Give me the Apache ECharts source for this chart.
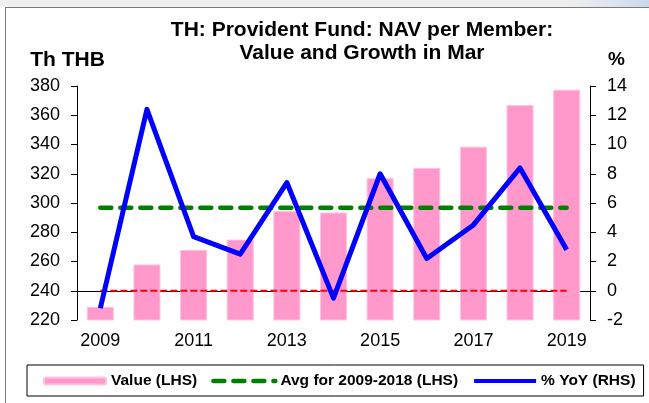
<!DOCTYPE html>
<html>
<head>
<meta charset="utf-8">
<script src="https://cdn.jsdelivr.net/npm/echarts@6/dist/echarts.min.js"></script>
<style>
  html, body { margin: 0; padding: 0; background: #fff; }
  #chart { width: 649px; height: 403px; }
</style>
</head>
<body>
<div id="chart"></div>
<script>
const years = ['2009', '2010', '2011', '2012', '2013', '2014', '2015', '2016', '2017', '2018', '2019'];
const navValue = [229, 258, 268, 275, 294.5, 293.5, 317, 324, 338.5, 367, 377.5];
const yoyGrowth = [-1.2, 12.4, 3.7, 2.5, 7.4, -0.5, 8.0, 2.2, 4.5, 8.4, 2.8];
const avgLine = [296.8, 296.8, 296.8, 296.8, 296.8, 296.8, 296.8, 296.8, 296.8, 296.8, 296.8];
const zeroLine = [0, 0, 0, 0, 0, 0, 0, 0, 0, 0, 0];
const seriesNames = ['Value (LHS)', 'Avg for 2009-2018 (LHS)', '% YoY (RHS)'];

const font = 'Liberation Sans, Arial, sans-serif';
const noSymbol = {color: 'rgba(0,0,0,0)', borderColor: 'rgba(0,0,0,0)', borderWidth: 0};
const chart = echarts.init(document.getElementById('chart'), null, {renderer: 'canvas'});

chart.setOption({
  backgroundColor: '#fff',
  animation: false,
  title: {
    text: 'TH: Provident Fund: NAV per Member:\nValue and Growth in Mar',
    left: 362,
    top: 18.5,
    padding: 0,
    textAlign: 'center',
    textStyle: {
      fontFamily: font,
      fontSize: 21,
      fontWeight: 'bold',
      color: '#000',
      lineHeight: 23
    }
  },
  graphic: [
    {type: 'rect', shape: {x: 0, y: 0, width: 649, height: 7}, style: {fill: '#efefef'}, silent: true},
    {
      type: 'rect', shape: {x: 560, y: 0, width: 89, height: 7}, silent: true,
      style: {fill: new echarts.graphic.LinearGradient(0, 0, 1, 0, [
        {offset: 0, color: 'rgba(220,228,240,0)'},
        {offset: 1, color: 'rgba(200,215,235,1)'}
      ])}
    },
    {type: 'line', shape: {x1: 5, y1: 7.5, x2: 649, y2: 7.5}, style: {stroke: '#7a7a7a', lineWidth: 1}, silent: true},
    {type: 'line', shape: {x1: 5.5, y1: 7.5, x2: 5.5, y2: 403}, style: {stroke: '#7a7a7a', lineWidth: 1}, silent: true}
  ],
  legend: {
    data: [
      {name: seriesNames[0]},
      {name: seriesNames[1], itemStyle: noSymbol,
        lineStyle: {color: '#008000', width: 4.5, type: [11, 9], cap: 'round'}},
      {name: seriesNames[2], itemStyle: noSymbol,
        lineStyle: {color: '#0000ff', width: 4}}
    ],
    left: 27,
    top: 365,
    padding: [8, 8, 7, 16],
    itemGap: 14,
    itemWidth: 62,
    itemHeight: 7,
    borderColor: '#000',
    borderWidth: 1,
    textStyle: {fontFamily: font, fontSize: 15.5, fontWeight: 'bold', color: '#000'}
  },
  grid: {left: 77, right: 59, top: 86, bottom: 83},
  xAxis: {
    type: 'category',
    data: years,
    boundaryGap: true,
    axisLine: {lineStyle: {color: '#000', width: 1}},
    axisTick: {interval: 0, length: 6, lineStyle: {color: '#000'}},
    axisLabel: {interval: 1, margin: 12, fontFamily: font, fontSize: 18, color: '#000'}
  },
  yAxis: [
    {
      type: 'value',
      min: 220,
      max: 380,
      interval: 20,
      name: 'Th THB',
      nameLocation: 'end',
      nameGap: 26,
      nameTextStyle: {
        fontFamily: font, fontSize: 21, fontWeight: 'bold', color: '#000',
        align: 'center', verticalAlign: 'middle', padding: [0, 19, 0, 0]
      },
      axisLine: {show: true, lineStyle: {color: '#000'}},
      axisTick: {show: true, length: 6, lineStyle: {color: '#000'}},
      splitLine: {show: false},
      axisLabel: {margin: 17, fontFamily: font, fontSize: 18, color: '#000'}
    },
    {
      type: 'value',
      min: -2,
      max: 14,
      interval: 2,
      name: '%',
      nameLocation: 'end',
      nameGap: 26,
      nameTextStyle: {
        fontFamily: font, fontSize: 19, fontWeight: 'bold', color: '#000',
        align: 'center', verticalAlign: 'middle', padding: [0, 0, 0, 53]
      },
      axisLine: {show: true, lineStyle: {color: '#000'}},
      axisTick: {show: true, length: 6, lineStyle: {color: '#000'}},
      splitLine: {show: false},
      axisLabel: {margin: 17, fontFamily: font, fontSize: 18, color: '#000'}
    }
  ],
  series: [
    {
      name: seriesNames[0],
      type: 'bar',
      data: navValue,
      barWidth: '58%',
      itemStyle: {color: '#ff99cc', borderColor: '#ffc2e0', borderWidth: 1}
    },
    {
      name: 'zero',
      type: 'line',
      yAxisIndex: 1,
      data: zeroLine,
      symbol: 'none',
      silent: true,
      lineStyle: {color: '#ff0000', width: 2, type: [7, 3]}
    },
    {
      name: seriesNames[1],
      type: 'line',
      data: avgLine,
      symbol: 'none',
      lineStyle: {color: '#008000', width: 4.5, type: [11, 9], cap: 'round'},
      itemStyle: {color: '#008000'}
    },
    {
      name: seriesNames[2],
      type: 'line',
      yAxisIndex: 1,
      data: yoyGrowth,
      symbol: 'none',
      lineStyle: {color: '#0000ff', width: 5, join: 'round'},
      itemStyle: {color: '#0000ff'}
    }
  ]
});
</script>
</body>
</html>
